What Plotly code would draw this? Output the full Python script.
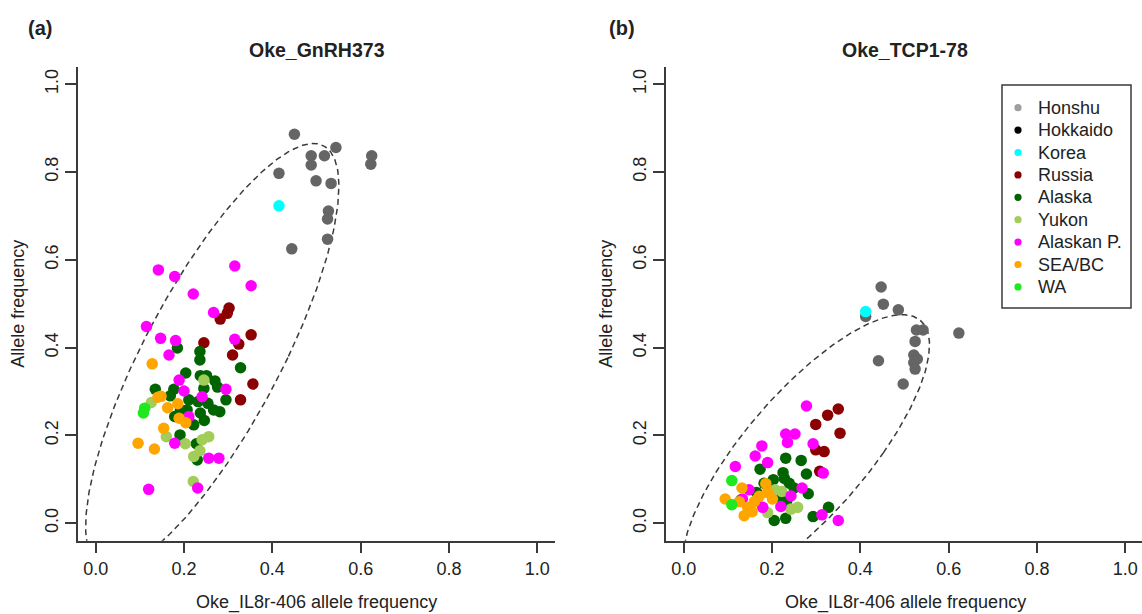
import numpy as np
import plotly.graph_objects as go

W, H = 1142, 614

GROUPS = ["Honshu", "Hokkaido", "Korea", "Russia", "Alaska", "Yukon", "Alaskan P.", "SEA/BC", "WA"]
COLORS = ["#656565", "#000000", "#00FFFF", "#8B0000", "#006400", "#A2CD5A", "#FF00FF", "#FFA500", "#1EE81E"]
LEGEND_COLORS = ["#9E9E9E", "#000000", "#00FFFF", "#8B0000", "#006400", "#A2CD5A", "#FF00FF", "#FFA500", "#1EE81E"]

# ---------------- Panel (a): Oke_GnRH373 ----------------
A_HONSHU = [(0.450, 0.886), (0.544, 0.856), (0.488, 0.837), (0.518, 0.837), (0.488, 0.816),
            (0.625, 0.837), (0.623, 0.818), (0.415, 0.797), (0.499, 0.780), (0.533, 0.774),
            (0.527, 0.711), (0.525, 0.693), (0.525, 0.647), (0.444, 0.625)]
A_HOKKAIDO = []
A_KOREA = [(0.415, 0.723)]
A_RUSSIA = [(0.302, 0.490), (0.298, 0.478), (0.282, 0.465), (0.245, 0.411), (0.352, 0.429),
            (0.324, 0.408), (0.310, 0.383), (0.356, 0.317), (0.328, 0.281)]
A_ALASKA = [(0.185, 0.399), (0.236, 0.391), (0.236, 0.372), (0.328, 0.354), (0.204, 0.342),
            (0.237, 0.336), (0.251, 0.336), (0.270, 0.324), (0.276, 0.310), (0.245, 0.307),
            (0.135, 0.305), (0.177, 0.305), (0.169, 0.290), (0.211, 0.281), (0.295, 0.281),
            (0.254, 0.273), (0.232, 0.277), (0.192, 0.258), (0.207, 0.258), (0.267, 0.258),
            (0.281, 0.254), (0.237, 0.251), (0.179, 0.243), (0.246, 0.234), (0.222, 0.224),
            (0.191, 0.201), (0.228, 0.181), (0.230, 0.144)]
A_YUKON = [(0.126, 0.275), (0.256, 0.197), (0.241, 0.190), (0.160, 0.197), (0.203, 0.181),
           (0.236, 0.165), (0.222, 0.152), (0.221, 0.095), (0.245, 0.326)]
A_ALASKANP = [(0.142, 0.577), (0.179, 0.562), (0.315, 0.586), (0.352, 0.541), (0.221, 0.522),
              (0.267, 0.480), (0.115, 0.448), (0.147, 0.421), (0.181, 0.416), (0.166, 0.383),
              (0.315, 0.419), (0.189, 0.326), (0.200, 0.301), (0.295, 0.305), (0.241, 0.288),
              (0.211, 0.243), (0.179, 0.182), (0.256, 0.148), (0.279, 0.148), (0.120, 0.077),
              (0.231, 0.080)]
A_SEABC = [(0.128, 0.363), (0.141, 0.287), (0.148, 0.289), (0.163, 0.263), (0.186, 0.272),
           (0.189, 0.239), (0.204, 0.229), (0.154, 0.216), (0.096, 0.182), (0.133, 0.169)]
A_WA = [(0.111, 0.262), (0.108, 0.251)]

# ---------------- Panel (b): Oke_TCP1-78 ----------------
B_HONSHU = [(0.447, 0.538), (0.452, 0.499), (0.486, 0.486), (0.412, 0.471), (0.527, 0.440),
            (0.542, 0.440), (0.623, 0.433), (0.524, 0.414), (0.441, 0.370), (0.521, 0.383),
            (0.529, 0.374), (0.521, 0.366), (0.524, 0.351), (0.497, 0.317)]
B_HOKKAIDO = []
B_KOREA = [(0.412, 0.482)]
B_RUSSIA = [(0.350, 0.260), (0.326, 0.246), (0.299, 0.225), (0.354, 0.205), (0.299, 0.167),
            (0.318, 0.163), (0.308, 0.118)]
B_ALASKA = [(0.231, 0.148), (0.266, 0.143), (0.173, 0.123), (0.225, 0.115), (0.278, 0.112),
            (0.203, 0.099), (0.228, 0.102), (0.239, 0.091), (0.250, 0.080), (0.194, 0.077),
            (0.282, 0.067), (0.215, 0.061), (0.165, 0.070), (0.130, 0.053), (0.233, 0.049),
            (0.328, 0.036), (0.293, 0.015), (0.231, 0.011), (0.205, 0.006), (0.182, 0.091)]
B_YUKON = [(0.222, 0.072), (0.207, 0.076), (0.258, 0.036), (0.243, 0.032), (0.190, 0.024),
           (0.165, 0.053)]
B_ALASKANP = [(0.278, 0.267), (0.231, 0.203), (0.252, 0.203), (0.235, 0.184), (0.293, 0.181),
              (0.177, 0.176), (0.162, 0.153), (0.190, 0.138), (0.117, 0.129), (0.316, 0.114),
              (0.268, 0.080), (0.148, 0.076), (0.243, 0.062), (0.179, 0.036), (0.220, 0.038),
              (0.313, 0.019), (0.350, 0.006), (0.133, 0.055)]
B_SEABC = [(0.132, 0.080), (0.186, 0.090), (0.190, 0.070), (0.201, 0.055), (0.094, 0.055),
           (0.126, 0.049), (0.160, 0.049), (0.145, 0.036), (0.155, 0.026), (0.137, 0.017),
           (0.171, 0.061)]
B_WA = [(0.109, 0.097), (0.109, 0.042)]

PANEL_A = [A_HONSHU, A_HOKKAIDO, A_KOREA, A_RUSSIA, A_ALASKA, A_YUKON, A_ALASKANP, A_SEABC, A_WA]
PANEL_B = [B_HONSHU, B_HOKKAIDO, B_KOREA, B_RUSSIA, B_ALASKA, B_YUKON, B_ALASKANP, B_SEABC, B_WA]

# ellipse: centre, horizontal half-chord through centre, topmost point
ELLIPSE_A = {"center": (0.264, 0.38), "half_x": 0.1725, "top": (0.493, 0.865)}
ELLIPSE_B = {"center": (0.277, 0.16), "half_x": 0.175, "top": (0.495, 0.475)}

TITLES = ["Oke_GnRH373", "Oke_TCP1-78"]
PANEL_TAGS = ["(a)", "(b)"]
X_TITLE = "Oke_IL8r-406 allele frequency"
Y_TITLE = "Allele frequency"
TICKS = [0.0, 0.2, 0.4, 0.6, 0.8, 1.0]
TICK_TEXT = ["0.0", "0.2", "0.4", "0.6", "0.8", "1.0"]

FONT = "Liberation Sans, Arial, sans-serif"
AXCOL = "#3a3a3a"
TXT = "#222222"


def ellipse_path(e, n=300):
    t = np.linspace(0, 2 * np.pi, n)
    cx, cy = e["center"]
    tx, ty = e["top"]
    x = cx + e["half_x"] * np.cos(t) + (tx - cx) * np.sin(t)
    y = cy + (ty - cy) * np.sin(t)
    return x, y


fig = go.Figure()

for k, (panel, ell) in enumerate([(PANEL_A, ELLIPSE_A), (PANEL_B, ELLIPSE_B)]):
    xa = "x" if k == 0 else "x2"
    ya = "y" if k == 0 else "y2"
    ex, ey = ellipse_path(ell)
    fig.add_trace(go.Scatter(x=ex, y=ey, mode="lines", xaxis=xa, yaxis=ya,
                             line=dict(color="#3a3a3a", width=1.5, dash="6px,4px"),
                             showlegend=False, hoverinfo="skip"))
    for g, pts, col in zip(GROUPS, panel, COLORS):
        if not pts:
            continue
        fig.add_trace(go.Scatter(x=[p[0] for p in pts], y=[p[1] for p in pts], mode="markers",
                                 xaxis=xa, yaxis=ya, name=g, showlegend=False,
                                 marker=dict(color=col, size=11.5, line=dict(width=0))))

Y_DOM = [1 - 540.7 / H, 1 - 66.7 / H]
axis_common = dict(showline=True, linecolor=AXCOL, linewidth=1.5, ticks="outside", ticklen=11,
                   tickwidth=1.5, tickcolor=AXCOL, tickvals=TICKS, ticktext=TICK_TEXT,
                   showgrid=False, zeroline=False,
                   tickfont=dict(family=FONT, size=18, color=TXT))

fig.update_layout(
    width=W, height=H, margin=dict(l=0, r=0, t=0, b=0),
    paper_bgcolor="white", plot_bgcolor="white", showlegend=False,
    xaxis=dict(domain=[78 / W, 555 / W], range=[-0.04, 1.04], anchor="y", **axis_common),
    yaxis=dict(domain=Y_DOM, range=[-0.04, 1.04], anchor="x", tickangle=-90, **axis_common),
    xaxis2=dict(domain=[666 / W, 1.0], range=[-0.04, -0.04 + 476 / 441.7], anchor="y2", **axis_common),
    yaxis2=dict(domain=Y_DOM, range=[-0.04, 1.04], anchor="x2", tickangle=-90, **axis_common),
)

ann = []
panel_center_x = [316.5, 905.3]
axis_x = [78, 666]
tag_x = [40, 622]
for k in range(2):
    ann.append(dict(text="<b>%s</b>" % TITLES[k], x=panel_center_x[k] / W, y=1 - 50 / H,
                    xref="paper", yref="paper", showarrow=False, xanchor="center", yanchor="middle",
                    font=dict(family=FONT, size=19.5, color=TXT)))
    ann.append(dict(text="<b>%s</b>" % PANEL_TAGS[k], x=tag_x[k] / W, y=1 - 28 / H,
                    xref="paper", yref="paper", showarrow=False, xanchor="center", yanchor="middle",
                    font=dict(family=FONT, size=20, color=TXT)))
    ann.append(dict(text=X_TITLE, x=panel_center_x[k] / W, y=1 - 602 / H,
                    xref="paper", yref="paper", showarrow=False, xanchor="center", yanchor="middle",
                    font=dict(family=FONT, size=18, color=TXT)))
    ann.append(dict(text=Y_TITLE, x=(axis_x[k] - 60) / W, y=1 - 303.7 / H, textangle=-90,
                    xref="paper", yref="paper", showarrow=False, xanchor="center", yanchor="middle",
                    font=dict(family=FONT, size=18, color=TXT)))

# legend (panel b)
shapes = [dict(type="rect", xref="paper", yref="paper", x0=1002 / W, x1=1131 / W,
               y0=1 - 308 / H, y1=1 - 85 / H, line=dict(color=AXCOL, width=1.5), fillcolor="white")]
for i, (g, c) in enumerate(zip(GROUPS, LEGEND_COLORS)):
    yc = 107.7 + 22.4 * i
    r = 3.6
    shapes.append(dict(type="circle", xref="paper", yref="paper",
                       x0=(1018 - r) / W, x1=(1018 + r) / W, y0=1 - (yc + r) / H, y1=1 - (yc - r) / H,
                       fillcolor=c, line=dict(width=0)))
    ann.append(dict(text=g, x=1035.5 / W, y=1 - yc / H, xref="paper", yref="paper", showarrow=False,
                    xanchor="left", yanchor="middle", font=dict(family=FONT, size=18, color=TXT)))

fig.update_layout(annotations=ann, shapes=shapes)
fig.write_html("out.html")
